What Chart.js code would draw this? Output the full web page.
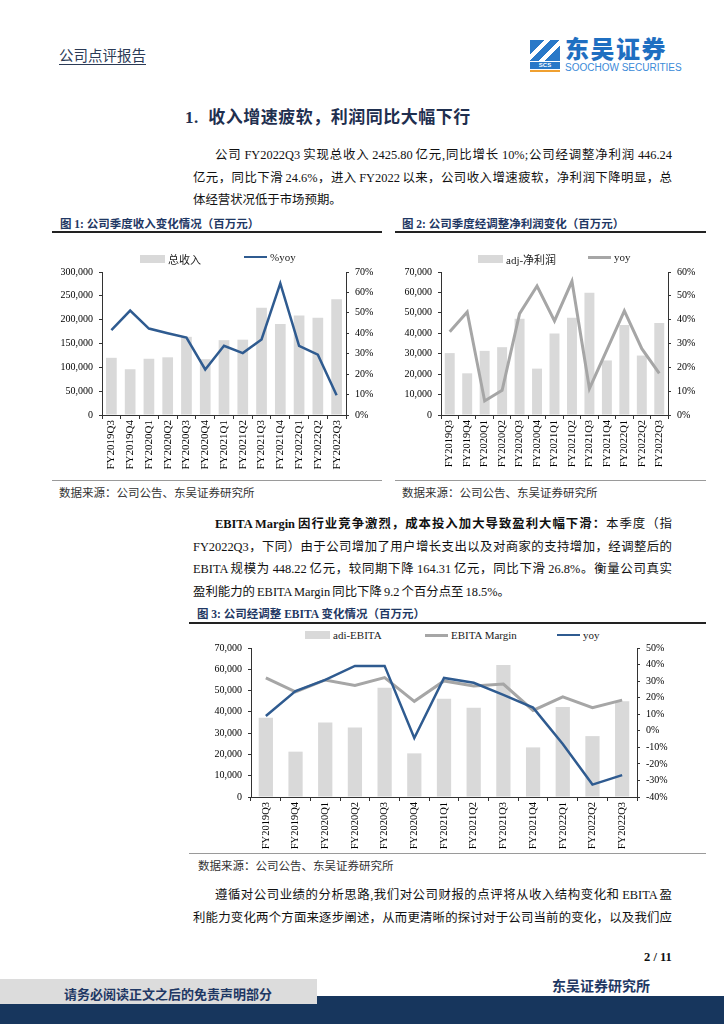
<!DOCTYPE html>
<html>
<head>
<meta charset="utf-8">
<script src="https://cdn.jsdelivr.net/npm/chart.js@4.4.0/dist/chart.umd.min.js"></script>
<style>
  body { margin: 0; background: #fff; }
  #page { position: relative; width: 724px; height: 1024px; overflow: hidden;
          font-family: "Liberation Serif", "Noto Sans CJK SC", serif; color: #111; }
  .abs { position: absolute; white-space: nowrap; }
  .ln { position: absolute; left: 193px; width: 479px; font-size: 12.4px; line-height: 16px;
        word-spacing: -1px; text-align: justify; text-align-last: justify; }
  .ln.last { text-align-last: left; }
  .ln.ind { left: 215px; width: 457px; }
  .cap { position: absolute; font-size: 11.5px; font-weight: bold; color: #1f3864; white-space: nowrap; }
  .rule { position: absolute; height: 2px; background: #222; }
  .thin { position: absolute; height: 1px; background: #9a9a9a; }
  .src { position: absolute; font-size: 11.5px; color: #333; white-space: nowrap; }
  .box { position: absolute; }
  .lg { position: absolute; font-size: 11px; display: flex; align-items: center; white-space: nowrap; color: #222; }
  .lg span.sw { display: inline-block; margin-right: 3px; }
</style>
</head>
<body>
<div id="page">
  <!-- header -->
  <div class="abs" style="left:59px;top:44px;font-size:14.5px;color:#2b3a55;text-decoration:underline;text-underline-offset:3px;font-family:'Noto Sans CJK SC';">公司点评报告</div>
  <div class="abs" style="left:530px;top:40px;width:30px;height:21px;background:linear-gradient(135deg,#2878c8 0 28%,#fff 28% 40%,#2878c8 40% 58%,#fff 58% 70%,#2878c8 70%);"></div>
  <div class="abs" style="left:530px;top:62px;width:30px;height:7px;background:#2878c8;color:#fff;font:bold 6px 'Liberation Sans';text-align:center;line-height:7px;">SCS</div>
  <div class="abs" style="left:530px;top:70px;width:30px;height:2px;background:#f0a030;"></div>
  <div class="abs" style="left:565px;top:36px;font-size:24px;line-height:24px;font-weight:900;color:#1f6fc1;font-family:'Noto Sans CJK SC';letter-spacing:1.5px;">东吴证券</div>
  <div class="abs" style="left:565px;top:63px;font-size:10px;line-height:10px;color:#3b8ad8;font-family:'Liberation Sans';">SOOCHOW SECURITIES</div>

  <div class="abs" style="left:185px;top:103px;font-size:17px;font-weight:bold;color:#1f2f4f;letter-spacing:0.5px;">1.&nbsp;&nbsp;收入增速疲软，利润同比大幅下行</div>

  <div class="ln ind" style="top:147px;">公司 FY2022Q3 实现总收入 2425.80 亿元,同比增长 10%;公司经调整净利润 446.24</div>
  <div class="ln" style="top:170px;">亿元，同比下滑 24.6%，进入 FY2022 以来，公司收入增速疲软，净利润下降明显，总</div>
  <div class="ln last" style="top:192px;">体经营状况低于市场预期。</div>

  <div class="cap" style="left:60px;top:215px;">图 1: 公司季度收入变化情况（百万元）</div>
  <div class="cap" style="left:402px;top:215px;">图 2: 公司季度经调整净利润变化（百万元）</div>
  <div class="rule" style="left:52px;top:231px;width:330px;"></div>
  <div class="rule" style="left:395px;top:231px;width:311px;"></div>

  <div class="box" style="left:52px;top:264px;width:333px;height:211px;"><canvas id="c1"></canvas></div>
  <div class="box" style="left:396px;top:264px;width:310px;height:211px;"><canvas id="c2"></canvas></div>
  <div id="lg1"></div><div id="lg2"></div><div id="lg3"></div>

  <div class="thin" style="left:52px;top:480px;width:330px;"></div>
  <div class="thin" style="left:395px;top:480px;width:311px;"></div>
  <div class="src" style="left:59px;top:484px;">数据来源：公司公告、东吴证券研究所</div>
  <div class="src" style="left:402px;top:484px;">数据来源：公司公告、东吴证券研究所</div>

  <div class="ln ind" style="top:516px;"><b>EBITA Margin 因行业竞争激烈，成本投入加大导致盈利大幅下滑：</b>本季度（指</div>
  <div class="ln" style="top:539px;">FY2022Q3，下同）由于公司增加了用户增长支出以及对商家的支持增加，经调整后的</div>
  <div class="ln" style="top:561px;">EBITA 规模为 448.22 亿元，较同期下降 164.31 亿元，同比下滑 26.8%。衡量公司真实</div>
  <div class="ln last" style="top:584px;">盈利能力的 EBITA Margin 同比下降 9.2 个百分点至 18.5%。</div>

  <div class="cap" style="left:197px;top:605px;">图 3: 公司经调整 EBITA 变化情况（百万元）</div>
  <div class="rule" style="left:189px;top:622px;width:517px;"></div>
  <div class="box" style="left:190px;top:640px;width:515px;height:209px;"><canvas id="c3"></canvas></div>
  <div class="thin" style="left:189px;top:853px;width:517px;"></div>
  <div class="src" style="left:198px;top:857px;">数据来源：公司公告、东吴证券研究所</div>

  <div class="ln ind" style="top:887px;">遵循对公司业绩的分析思路,我们对公司财报的点评将从收入结构变化和 EBITA 盈</div>
  <div class="ln" style="top:910px;">利能力变化两个方面来逐步阐述，从而更清晰的探讨对于公司当前的变化，以及我们应</div>

  <div class="abs" style="left:644px;top:950px;font-size:12.5px;font-weight:bold;">2 / 11</div>
  <div class="abs" style="left:552px;top:975px;font-size:14px;font-weight:bold;color:#1f3864;">东吴证券研究所</div>
  <div class="abs" style="left:0;top:996px;width:724px;height:28px;background:#17365d;"></div>
  <div class="abs" style="left:0;top:979px;width:317px;height:25px;background:#dcdcdc;"></div>
  <div class="abs" style="left:64px;top:984px;font-size:13px;font-weight:bold;color:#1f3864;">请务必阅读正文之后的免责声明部分</div>
</div>

<script>
const quarters = ["FY2019Q3", "FY2019Q4", "FY2020Q1", "FY2020Q2", "FY2020Q3", "FY2020Q4", "FY2021Q1",
                  "FY2021Q2", "FY2021Q3", "FY2021Q4", "FY2022Q1", "FY2022Q2", "FY2022Q3"];
// 图1 总收入 / %yoy
const revenue = [120000, 96000, 118000, 121000, 164000, 117000, 157000, 158000, 225000, 191000, 209000, 204000, 242580];
const revenueYoy = [41.6, 51.1, 42.3, 40.0, 37.9, 22.3, 33.9, 30.3, 37.0, 64.4, 33.8, 29.5, 9.7];
// 图2 adj-净利润 / yoy
const adjNetProfit = [30300, 20400, 31400, 33200, 47100, 22700, 39900, 47600, 59900, 26700, 44000, 29100, 45000];
const profitYoy = [34.9, 43.2, 5.9, 10.4, 42.5, 54.1, 39.5, 56.1, 11.1, 27.3, 43.7, 27.8, 17.5];
// 图3 adi-EBITA / EBITA Margin / yoy
const adjEbita = [37200, 21300, 35000, 32700, 51300, 20500, 46100, 41900, 62000, 23300, 42300, 28600, 45000];
const ebitaMargin = [31.9, 23.5, 30.7, 27.4, 32.1, 17.8, 30.1, 27.0, 28.2, 12.3, 20.5, 14.0, 18.5];
const ebitaYoy = [8.9, 24.0, 30.7, 39.2, 39.2, -4.4, 31.9, 29.0, 21.7, 14.0, -8.0, -32.5, -26.8];

const GREY_BAR = "#d9d9d9", GREY_LINE = "#a6a6a6", BLUE = "#2f5b90";

Chart.defaults.font.family = '"Liberation Serif", "Noto Sans CJK SC", serif';
Chart.defaults.color = "#000";
Chart.defaults.animation = false;

const num = v => v.toLocaleString("en-US");
const pct = v => v + "%";

function yAxis(pos, width, min, max, step, fmt) {
  return {
    position: pos, min: min, max: max,
    grid: { drawOnChartArea: false, drawTicks: true, tickLength: 3, color: "#333" },
    border: { color: "#333" },
    ticks: { stepSize: step, padding: 6, font: { size: 10 }, callback: fmt },
    afterFit(s) { s.width = width; s.paddingTop = 0; s.paddingBottom = 0; }
  };
}
function xAxis(height, size) {
  return {
    grid: { drawOnChartArea: false, drawTicks: true, tickLength: 4, color: "#333" },
    border: { color: "#333" },
    ticks: { autoSkip: false, minRotation: 90, maxRotation: 90, padding: 1, font: { size: size } },
    afterFit(s) { s.height = height; s.paddingLeft = 0; s.paddingRight = 0; }
  };
}
function opts(scales) {
  return {
    responsive: true, maintainAspectRatio: false,
    layout: { padding: { top: 8, left: 0, right: 0, bottom: 0 } },
    plugins: { legend: { display: false }, tooltip: { enabled: false } },
    scales: scales
  };
}

const c1 = new Chart("c1", {
  data: {
    labels: quarters,
    datasets: [
      { type: "line", label: "%yoy", data: revenueYoy, yAxisID: "y1", borderColor: BLUE, borderWidth: 2.5, pointRadius: 0, tension: 0 },
      { type: "bar", label: "总收入", data: revenue, yAxisID: "y", backgroundColor: GREY_BAR, barPercentage: 0.57, categoryPercentage: 1 }
    ]
  },
  options: opts({
    x: xAxis(60, 11),
    y: yAxis("left", 50, 0, 300000, 50000, num),
    y1: yAxis("right", 39, 0, 70, 10, pct)
  })
});

const c2 = new Chart("c2", {
  data: {
    labels: quarters,
    datasets: [
      { type: "line", label: "yoy", data: profitYoy, yAxisID: "y1", borderColor: GREY_LINE, borderWidth: 3, pointRadius: 0, tension: 0 },
      { type: "bar", label: "adj-净利润", data: adjNetProfit, yAxisID: "y", backgroundColor: GREY_BAR, barPercentage: 0.57, categoryPercentage: 1 }
    ]
  },
  options: opts({
    x: xAxis(60, 10.5),
    y: yAxis("left", 45, 0, 70000, 10000, num),
    y1: yAxis("right", 38, 0, 60, 10, pct)
  })
});

const c3 = new Chart("c3", {
  data: {
    labels: quarters,
    datasets: [
      { type: "line", label: "yoy", data: ebitaYoy, yAxisID: "y1", borderColor: BLUE, borderWidth: 2.5, pointRadius: 0, tension: 0 },
      { type: "line", label: "EBITA Margin", data: ebitaMargin, yAxisID: "y1", borderColor: GREY_LINE, borderWidth: 3, pointRadius: 0, tension: 0 },
      { type: "bar", label: "adi-EBITA", data: adjEbita, yAxisID: "y", backgroundColor: GREY_BAR, barPercentage: 0.48, categoryPercentage: 1 }
    ]
  },
  options: opts({
    x: xAxis(52, 10.5),
    y: yAxis("left", 61, 0, 70000, 10000, num),
    y1: yAxis("right", 68, -40, 50, 10, pct)
  })
});

// html legends built from the datasets (bars first, as in the report)
function legend(id, chart, lefts, top) {
  const el = document.getElementById(id);
  const ds = chart.data.datasets.slice().reverse();
  ds.forEach((d, i) => {
    const item = document.createElement("div");
    item.className = "lg";
    item.style.left = lefts[i] + "px";
    item.style.top = top + "px";
    const sw = document.createElement("span");
    sw.className = "sw";
    if (d.type === "bar") {
      sw.style.width = "25px"; sw.style.height = "8px"; sw.style.background = d.backgroundColor;
    } else {
      sw.style.width = "23px"; sw.style.height = d.borderWidth + "px"; sw.style.background = d.borderColor;
    }
    item.appendChild(sw);
    item.appendChild(document.createTextNode(d.label));
    el.appendChild(item);
  });
}
legend("lg1", c1, [140, 244], 251);
legend("lg2", c2, [478, 588], 251);
legend("lg3", c3, [305, 425, 557], 629);
</script>
</body>
</html>
